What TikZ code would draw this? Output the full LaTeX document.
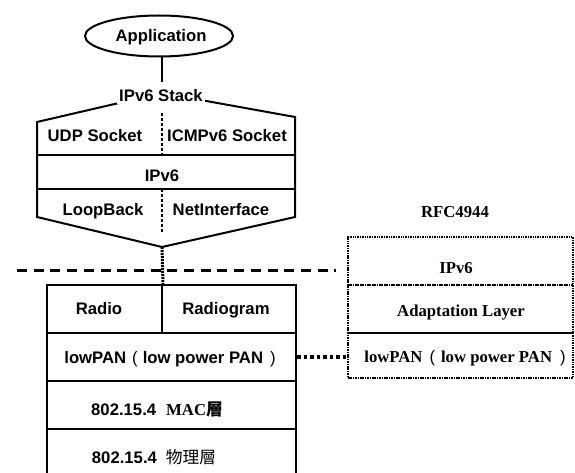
\documentclass[tikz,border=0pt]{standalone}
\usepackage{fontspec}
\setmainfont{Liberation Sans}
\newfontfamily\seriffont{Liberation Serif}
\newfontfamily\cjkfont{Noto Sans CJK TC}
\usetikzlibrary{shapes.geometric}
\newcommand{\lparen}[2]{\hspace{#1}{\mdseries\sffamily\fontspec{Liberation Sans}(}\hspace{#2}}
\newcommand{\rparen}[1]{\hspace{#1}{\mdseries\fontspec{Liberation Sans})}}
\tikzset{
  lbl/.style={font=\fontsize{16.7}{20}\selectfont\bfseries, inner sep=0pt, anchor=base},
  rlbl/.style={font=\fontsize{16.7}{20}\selectfont\seriffont\bfseries, inner sep=0pt, anchor=base},
  solidline/.style={line width=2pt, line join=miter},
  layerbox/.style={draw, line width=2pt, inner sep=0pt},
  rfcbox/.style={draw, line width=2.6pt, dash pattern=on 1.5pt off 0.9pt, inner sep=0pt, minimum width=225pt},
  innerdash/.style={line width=1.3pt, dash pattern=on 3pt off 2pt},
  sepline/.style={line width=3pt, dash pattern=on 10pt off 6.7pt},
  thickdots/.style={line width=3pt, dash pattern=on 2pt off 1pt},
  linkdots/.style={line width=3.2pt, dash pattern=on 3.5pt off 3pt},
}
\begin{document}
\begin{tikzpicture}[x=1pt,y=-1pt]
\useasboundingbox (0,0) rectangle (575,473);
\clip (0,0) rectangle (575,473);

% Application
\node[ellipse, draw, solidline, minimum width=148pt, minimum height=41pt, inner sep=0pt] (app) at (159,36) {};
\node[lbl] (apptext) at (161,42) {Application};
\coordinate (stk) at (162,82);
\draw[solidline] (app.south -| stk) -- (stk);

% IPv6 stack hexagon
\coordinate (hTL) at (37,122);
\coordinate (hTop) at (162,93);
\coordinate (hTR) at (295,117);
\coordinate (hBR) at (295,217);
\coordinate (hBot) at (162,247);
\coordinate (hBL) at (37,217);
\draw[solidline] (hTL) -- (hTop) -- (hTR) -- (hBR) -- (hBot) -- (hBL) -- cycle;
\draw[solidline] (37,155) -- (295,155);
\draw[solidline] (37,189) -- (295,189);
\draw[innerdash] (162,113) -- (162,155);
\draw[innerdash] (162,189) -- (162,233);
\node[lbl, fill=white, inner sep=2pt] (stack) at (161,102) {IPv6 Stack};

\node[lbl] (udp) at (95,142) {UDP Socket};
\node[lbl] (icmp) at (227,142) {ICMPv6 Socket};
\node[lbl] (ipv6l) at (162,182) {IPv6};
\node[lbl] (loop) at (103,215) {LoopBack};
\node[lbl] (netif) at (221,215) {NetInterface};

% separator
\draw[sepline] (17,270) -- (336,270);

% lower stack
\node[layerbox, minimum width=115pt, minimum height=48pt] (radiorow) at (104.5,309) {};
\node[layerbox, minimum width=134pt, minimum height=48pt] (radiogramrow) at (229,309) {};
\node[layerbox, minimum width=249pt, minimum height=48pt] (lowpanrow) at (171.5,357) {};
\node[layerbox, minimum width=249pt, minimum height=48pt] (macrow) at (171.5,405) {};
\node[layerbox, minimum width=249pt, minimum height=49pt] (phyrow) at (171.5,453.5) {};

\node[lbl] (radio) at (99,314) {Radio};
\node[lbl] (radiogram) at (226,314) {Radiogram};
\node[lbl] (lowpan) at (170,363) {lowPAN\lparen{6pt}{5pt}low power PAN\rparen{7pt}};
\node[lbl] (mac) at (157,415) {802.15.4\hspace{10pt}{\seriffont MAC}{\cjkfont 層}};
\node[lbl] (phy) at (154,463) {802.15.4\hspace{9pt}{\cjkfont\mdseries 物理層}};

\draw[thickdots] (hBot) -- (radiorow.north east);

% RFC4944
\node[rlbl] (rfc) at (455,217) {RFC4944};
\node[rfcbox, minimum height=48pt] (rfcipv6) at (460.5,261) {};
\node[rfcbox, minimum height=48pt] (rfcadapt) at (460.5,309) {};
\node[rfcbox, minimum height=45pt] (rfclowpan) at (460.5,355.5) {};
\node[rlbl] (rfcipv6t) at (456,273) {IPv6};
\node[rlbl] (rfcadaptt) at (461,316) {Adaptation Layer};
\node[rlbl] (rfclowpant) at (465,362) {lowPAN\lparen{7pt}{6pt}low power PAN\rparen{8pt}};

\draw[linkdots] (lowpanrow.east) -- (rfclowpan.west |- lowpanrow.east);
\end{tikzpicture}
\end{document}
